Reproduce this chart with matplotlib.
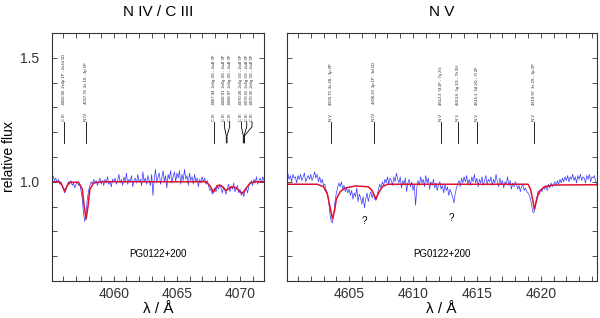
import numpy as np
import matplotlib
matplotlib.use("Agg")
import matplotlib.pyplot as plt
from matplotlib.ticker import MultipleLocator

plt.rcParams['font.family'] = ['Liberation Sans', 'DejaVu Sans']

# ---------------- data ----------------
titles = ["N IV / C III", "N V"]
star = "PG0122+200"

# observed spectrum, left panel (start, step)
obs_left_start = 4055.1
obs_left_step = 0.1
obs_left_flux = [
    1.035, 1.02, 1.005, 1.015, 0.995, 1.01, 0.99, 1.0, 0.985, 0.97,
    0.955, 0.965, 0.985, 1.0, 0.99, 1.005, 0.985, 0.995, 0.975, 0.99,
    1.0, 0.985, 0.99, 0.965, 0.93, 0.87, 0.84, 0.875, 0.93, 0.965,
    0.985, 1.0, 0.99, 1.01, 0.995, 1.005, 0.985, 1.0, 1.015, 0.99,
    1.005, 0.985, 1.01, 0.995, 1.02, 0.99, 1.0, 0.98, 1.01, 1.0,
    1.015, 0.99, 1.005, 1.03, 0.995, 1.01, 0.985, 1.02, 1.0, 1.035,
    0.99, 1.01, 1.0, 1.025, 0.98, 1.005, 1.015, 0.995, 1.03, 1.0,
    1.01, 0.985, 1.04, 1.0, 1.015, 0.99, 1.025, 1.005, 0.985, 1.03,
    0.945, 1.01, 1.05, 0.995, 1.02, 1.035, 0.99, 1.015, 1.045, 1.0,
    1.025, 0.975, 1.03, 1.01, 1.045, 0.995, 1.02, 1.04, 1.0, 1.035,
    1.015, 1.045, 0.99, 1.03, 1.005, 1.05, 1.01, 1.025, 0.985, 1.035,
    1.005, 1.02, 0.99, 1.03, 1.0, 1.015, 0.98, 1.01, 0.995, 1.02,
    1.0, 1.015, 0.99, 1.005, 0.985, 0.965, 0.97, 0.95, 0.965, 0.975,
    0.96, 0.985, 0.97, 0.99, 0.975, 0.955, 0.98, 0.965, 0.95, 0.975,
    0.99, 0.96, 0.98, 0.97, 0.995, 0.96, 0.975, 0.985, 0.955, 0.97,
    0.945, 0.96, 0.94, 0.965, 0.975, 0.955, 0.985, 0.99, 1.005, 0.985,
    1.01, 0.995, 1.02, 0.99, 1.005, 1.015, 0.995, 1.02, 1.005,
]

obs_right_start = 4600.1
obs_right_step = 0.1
obs_right_flux = [
    1.02, 1.035, 1.01, 1.025, 1.0, 1.03, 1.015, 1.02, 0.995, 1.025,
    1.01, 1.03, 1.005, 1.02, 1.035, 1.0, 1.015, 1.025, 1.01, 1.03,
    1.005, 1.02, 1.04, 1.015, 1.03, 1.0, 1.02, 0.995, 1.01, 0.985,
    0.99, 0.965, 0.955, 0.92, 0.87, 0.84, 0.835, 0.87, 0.92, 0.955,
    0.975, 0.995, 0.98, 1.0, 0.97, 0.985, 0.96, 0.975, 0.955, 0.97,
    0.945, 0.965, 0.93, 0.955, 0.94, 0.975, 0.92, 0.95, 0.935, 0.91,
    0.94, 0.895, 0.93, 0.955, 0.92, 0.945, 0.96, 0.935, 0.955, 0.93,
    0.925, 0.945, 0.97, 0.99, 0.975, 1.0, 0.985, 1.01, 0.995, 1.02,
    0.99, 1.015, 1.005, 0.985, 1.02, 1.0, 1.035, 1.01, 0.995, 1.02,
    0.975, 1.005, 0.99, 1.015, 0.96, 0.995, 1.01, 0.98, 1.0, 0.965,
    0.99, 0.905, 0.975, 1.005, 0.985, 1.02, 0.995, 1.01, 0.98, 1.025,
    0.995, 1.015, 0.97, 1.0, 0.985, 1.01, 0.975, 0.995, 0.965, 0.99,
    1.0, 0.97, 0.985, 0.955, 0.99, 0.965, 0.98, 0.945, 0.97, 0.955,
    0.94, 0.915, 0.95, 0.975, 0.99, 1.005, 0.98, 1.015, 0.995, 1.02,
    1.0, 1.025, 0.99, 1.01, 0.985, 1.02, 1.0, 1.03, 0.995, 1.015,
    0.98, 1.01, 0.995, 1.02, 0.985, 1.005, 1.025, 0.99, 1.01, 1.0,
    1.02, 0.985, 1.01, 0.995, 1.03, 1.0, 0.98, 1.015, 0.99, 1.005,
    0.975, 1.0, 0.99, 1.02, 0.985, 1.005, 0.97, 0.995, 0.98, 1.0,
    0.99, 0.97, 0.985, 0.96, 0.98, 0.99, 0.965, 0.975, 0.96, 0.955,
    0.945, 0.93, 0.9, 0.875, 0.88, 0.915, 0.94, 0.96, 0.95, 0.97,
    0.96, 0.98, 0.97, 0.985, 0.965, 0.99, 0.975, 0.995, 0.98, 0.99,
    1.0, 0.985, 1.005, 0.99, 1.01, 0.995, 1.015, 1.0, 1.02, 1.005,
    1.025, 1.0, 1.02, 1.01, 1.03, 1.005, 1.02, 0.995, 1.025, 1.01,
    1.03, 1.005, 1.02, 1.015, 0.995, 1.025, 1.01, 1.03, 1.0, 1.02,
    1.015, 1.025, 1.0, 0.985,
]

# model spectra (red)
model_left_wl = [4055.1, 4055.7, 4055.9, 4056.1, 4056.3, 4056.5, 4057.2, 4057.5,
                 4057.65, 4057.8, 4057.95, 4058.1, 4058.4, 4059.0, 4067.3, 4067.6,
                 4067.9, 4068.2, 4068.5, 4068.9, 4069.3, 4069.7, 4070.0, 4070.2,
                 4070.5, 4070.8, 4071.2, 4071.9]
model_left_flux = [1.0, 1.0, 0.985, 0.962, 0.985, 0.998, 0.998, 0.97,
                   0.9, 0.85, 0.9, 0.97, 0.995, 1.0, 1.0, 0.985,
                   0.958, 0.985, 0.985, 0.965, 0.98, 0.975, 0.96, 0.953,
                   0.975, 0.995, 1.0, 1.0]

model_right_wl = [4600.1, 4602.5, 4603.0, 4603.3, 4603.5, 4603.7, 4603.85, 4604.0,
                  4604.3, 4604.7, 4605.5, 4606.5, 4606.8, 4607.1, 4607.3, 4607.6,
                  4608.0, 4619.0, 4619.2, 4619.4, 4619.5, 4619.65, 4619.85, 4620.3,
                  4621.0, 4624.4]
model_right_flux = [0.99, 0.99, 0.98, 0.95, 0.9, 0.85, 0.88, 0.93,
                    0.96, 0.975, 0.983, 0.98, 0.965, 0.93, 0.955, 0.98,
                    0.99, 0.99, 0.97, 0.92, 0.888, 0.92, 0.96, 0.98,
                    0.987, 0.988]

# line identifications: groups of (ion, wavelength, description)
ids_left = [
    [("C III", 4056.06, "4056.06  2s3p 1P - 2s3d 1D")],
    [("N IV", 4057.76, "4057.76  3s 1S - 3p 1P")],
    [("C III", 4067.94, "4067.94  2s5g 3G - 2s4f 3F")],
    [("C III", 4068.91, "4068.91  2s5g 3G - 2s4f 3F"),
     ("C III", 4068.97, "4068.97  2s5g 3G - 2s4f 3F")],
    [("C III", 4070.26, "4070.26  2s5g 3G - 2s4f 3F"),
     ("C III", 4070.31, "4070.31  2s5g 3G - 2s4f 3F"),
     ("C III", 4070.35, "4070.35  2s5g 3G - 2s4f 3F")],
]
ids_right = [
    [("N V", 4603.6, "4603.73  3s 2S - 3p 2P")],
    [("N IV", 4606.93, "4606.33  3p 1P - 3d 1D")],
    [("N V", 4612.22, "4612.3  5f 2F - 7g 2G")],
    [("N V", 4613.52, "4613.6  5g 2G - 7h 2H")],
    [("N V", 4615.03, "4615.1  5d 2D - 7f 2F")],
    [("N V", 4619.46, "4619.97  3s 2S - 3p 2P")],
]

question_marks = [(4606.2, 0.84), (4613.0, 0.855)]

xlims = [(4055.1, 4071.9), (4600.1, 4624.4)]
ylim = (0.6, 1.6)

# ---------------- figure ----------------
fig = plt.figure(figsize=(6.0, 3.18), dpi=100)
axL = fig.add_axes([0.0867, 0.1164, 0.3533, 0.78])
axR = fig.add_axes([0.4775, 0.1164, 0.5175, 0.78])

blue = '#3636ff'
red = '#e0102e'


def draw_ids(ax, groups):
    y0, y1, y2, y3 = 1.157, 1.185, 1.222, 1.242
    for g in groups:
        base = g[0][1]
        if len(g) == 1:
            ion, wl, desc = g[0]
            ax.plot([wl, wl], [y0, y3], color='black', lw=0.6)
            ax.text(wl, y3 + 0.005, f"{ion}        {desc}", rotation=90,
                    ha='center', va='bottom', fontsize=3.0, color='#222222')
        else:
            for i, (ion, wl, desc) in enumerate(g):
                lx = base - 0.15 + 0.42 * i
                ax.plot([wl, wl, lx, lx], [y0, y1, y2, y3], color='black', lw=0.6)
                ax.text(lx, y3 + 0.005, f"{ion}        {desc}", rotation=90,
                        ha='center', va='bottom', fontsize=3.0, color='#222222')


panels = [
    (axL, obs_left_start, obs_left_step, obs_left_flux, model_left_wl, model_left_flux, ids_left),
    (axR, obs_right_start, obs_right_step, obs_right_flux, model_right_wl, model_right_flux, ids_right),
]

for i, (ax, st, sp, fl, mwl, mfl, ids) in enumerate(panels):
    wl = np.round(st + sp * np.arange(len(fl)), 3)
    ax.plot(wl, fl, color=blue, lw=0.5)
    ax.plot(mwl, mfl, color=red, lw=1.1)
    draw_ids(ax, ids)
    ax.set_xlim(*xlims[i])
    ax.set_ylim(*ylim)
    ax.xaxis.set_major_locator(MultipleLocator(5))
    ax.xaxis.set_minor_locator(MultipleLocator(1))
    ax.yaxis.set_major_locator(MultipleLocator(0.5))
    ax.yaxis.set_minor_locator(MultipleLocator(0.1))
    ax.tick_params(which='both', direction='in', top=True, right=True,
                   length=3.5, width=0.6, labelsize=10, colors='#333333')
    ax.tick_params(axis='x', which='both', pad=4)
    ax.tick_params(axis='y', which='both', pad=9)
    for s in ax.spines.values():
        s.set_linewidth(0.8)
        s.set_color('#333333')
    ax.set_title(titles[i], fontsize=11, pad=12)
    ax.set_xlabel("λ / Å", fontsize=11, labelpad=1)
    ax.text(0.5, 0.11, star, transform=ax.transAxes, ha='center', va='center', fontsize=7)

axL.yaxis.set_major_formatter(matplotlib.ticker.FormatStrFormatter('%.1f'))
axL.set_ylabel("relative flux", fontsize=10, labelpad=3)
axR.tick_params(axis='y', labelleft=False)

for (x, y) in question_marks:
    axR.text(x, y, "?", ha='center', va='center', fontsize=7)

fig.savefig("out.png", dpi=100)
